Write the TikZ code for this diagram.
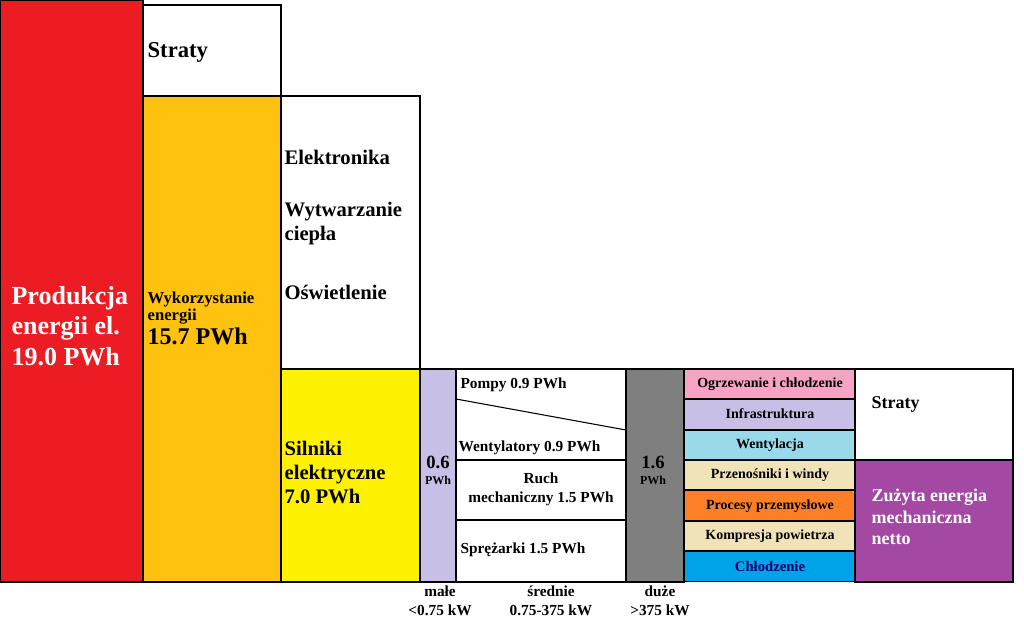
\documentclass[tikz,border=0pt]{standalone}
\usepackage{fontspec}
\setmainfont{Liberation Serif}
\definecolor{cred}{HTML}{EC1C24}
\definecolor{corange}{HTML}{FFC20E}
\definecolor{cyellow}{HTML}{FFF200}
\definecolor{clav}{HTML}{C8BFE7}
\definecolor{cgray}{HTML}{7F7F7F}
\definecolor{cpink}{HTML}{F7A3C4}
\definecolor{ccyan}{HTML}{99D9EA}
\definecolor{cbeige}{HTML}{F1E3B8}
\definecolor{cor}{HTML}{FF7F27}
\definecolor{cblue}{HTML}{00A2E8}
\definecolor{cpurple}{HTML}{A349A4}
\begin{document}
\begin{tikzpicture}[x=0.75pt,y=-0.75pt,
    every node/.style={font=\bfseries, inner sep=1pt},
    box/.style={draw=black, line width=0.8pt}
]
\useasboundingbox (0,0) rectangle (1024,626);
% columns
\draw[box,fill=cred] (0,0) rectangle (143,582);
\draw[box,fill=white] (143,5) rectangle (281,96);
\draw[box,fill=corange] (143,96) rectangle (281,582);
\draw[box,fill=white] (281,96) rectangle (420,369);
\draw[box,fill=cyellow] (281,369) rectangle (420,582);
\draw[box,fill=clav] (420,369) rectangle (456,582);
\draw[box,fill=white] (456,369) rectangle (626,582);
\draw[box] (456,399) -- (626,430);
\draw[box] (456,460) -- (626,460);
\draw[box] (456,520) -- (626,520);
\draw[box,fill=cgray] (626,369) rectangle (684,582);
% stacked rows
\foreach \top/\col [count=\i] in {369/cpink,399/clav,430/ccyan,460/cbeige,490/cor,521/cbeige,551/cblue}
  \draw[box,fill=\col] (684,\top) rectangle (855,\top+30.4);
\draw[box,fill=white] (855,369) rectangle (1013,460);
\draw[box,fill=cpurple] (855,460) rectangle (1013,582);
% labels
\node[anchor=west,text=white,font=\bfseries\fontsize{19.5}{23}\selectfont,align=left] (prod) at (10,326) {Produkcja\\energii el.\\19.0 PWh};
\node[anchor=west,font=\bfseries\fontsize{17}{19}\selectfont] (straty1) at (146,52) {Straty};
\node[anchor=west,align=left,font=\bfseries\fontsize{12.5}{13}\selectfont] (wyk) at (146,308) {Wykorzystanie\\energii};
\node[anchor=north west,font=\bfseries\fontsize{18}{20}\selectfont] (wykv) at (wyk.south west) {15.7 PWh};
\node[anchor=west,font=\bfseries\fontsize{15.5}{17}\selectfont] (elek) at (283,157) {Elektronika};
\node[anchor=west,align=left,font=\bfseries\fontsize{15.5}{18}\selectfont] (wytw) at (283,224) {Wytwarzanie\\ciepła};
\node[anchor=west,font=\bfseries\fontsize{15.5}{17}\selectfont] (osw) at (283,292) {Oświetlenie};
\node[anchor=west,align=left,font=\bfseries\fontsize{15.5}{18}\selectfont] (siln) at (283,472) {Silniki\\elektryczne\\7.0 PWh};
\node[align=center,font=\bfseries\fontsize{14}{13}\selectfont] (male) at (438,470) {0.6\\[-1pt]{\fontsize{9}{10}\selectfont PWh}};
\node[align=center,font=\bfseries\fontsize{14}{13}\selectfont] (duze) at (653,470) {1.6\\[-1pt]{\fontsize{9}{10}\selectfont PWh}};
\node[anchor=west,font=\bfseries\fontsize{11.5}{13}\selectfont] (pompy) at (459,385) {Pompy 0.9 PWh};
\node[anchor=west,font=\bfseries\fontsize{11.5}{13}\selectfont] (went) at (457,448) {Wentylatory 0.9 PWh};
\node[align=center,font=\bfseries\fontsize{11.5}{14}\selectfont] (ruch) at (541,489) {Ruch\\mechaniczny 1.5 PWh};
\node[anchor=west,font=\bfseries\fontsize{11.5}{13}\selectfont] (sprez) at (459,550) {Sprężarki 1.5 PWh};
\foreach \y/\t in {384/Ogrzewanie i chłodzenie,414/Infrastruktura,445/Wentylacja,475/Przenośniki i windy,506/Procesy przemysłowe,536/Kompresja powietrza}
  \node[font=\bfseries\fontsize{10.5}{12}\selectfont] at (770,\y) {\t};
\node[text=blue!40!black,font=\bfseries\fontsize{11}{12}\selectfont] (chl) at (770,566) {Chłodzenie};
\node[anchor=west,font=\bfseries\fontsize{13.5}{15}\selectfont] (straty2) at (870,404) {Straty};
\node[anchor=west,align=left,text=white,font=\bfseries\fontsize{13.5}{16}\selectfont] (netto) at (870,517) {Zużyta energia\\mechaniczna\\netto};
\foreach \x/\a/\b in {440/małe/<0.75 kW,551/średnie/0.75-375 kW,660/duże/>375 kW}
  \node[align=center,font=\bfseries\fontsize{11.5}{14}\selectfont] at (\x,601) {\a\\\b};
\end{tikzpicture}
\end{document}
